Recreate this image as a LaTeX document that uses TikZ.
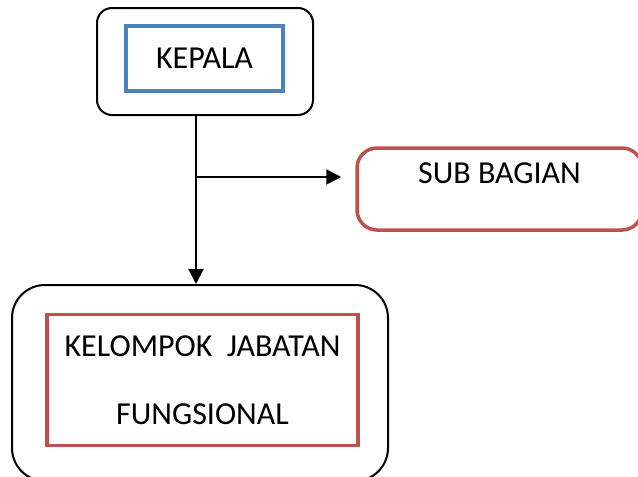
\documentclass[tikz,border=0pt]{standalone}
\usepackage{fontspec}
\setmainfont{Carlito}
\usepackage{xcolor}
\usetikzlibrary{positioning,arrows.meta,calc}
\definecolor{blu}{HTML}{4F81BD}
\definecolor{rd}{HTML}{C0504D}
\tikzset{
  outer/.style={draw=black,line width=2pt,rounded corners=#1,inner sep=0pt},
  inner/.style={draw=#1,line width=3.5pt,inner sep=0pt,align=center},
  lbl/.style={font=\fontsize{32}{68}\selectfont},
  arr/.style={-{Triangle[length=15pt,width=15pt]},line width=2pt,black},
}
\begin{document}
\begin{tikzpicture}[x=1pt,y=-1pt]
\clip (0,0) rectangle (638,477);
\node[outer=15pt,minimum width=216pt,minimum height=107pt] (kepOut) at (205,61.5) {};
\node[inner=blu,lbl,minimum width=157pt,minimum height=65pt] (kep) at (204.5,58.5) {KEPALA};
\node[draw=rd,line width=3.5pt,rounded corners=20pt,inner sep=0pt,lbl,
      minimum width=285pt,text height=35pt,text depth=47pt] (sub) at (499.5,189) {SUB BAGIAN};
\node[outer=33pt,minimum width=376pt,minimum height=196pt] (kelOut) at (200,383) {};
\node[inner=rd,lbl,minimum width=311pt,minimum height=131pt] (kel) at (202.5,380) {KELOMPOK\ \ JABATAN\\FUNGSIONAL};
\coordinate (cab) at (196,177);
\draw[arr] (kepOut.south -| cab) -- (kelOut.north -| cab);
\draw[arr,shorten >=14pt] (cab) -- (cab -| sub.west);
\end{tikzpicture}
\end{document}
